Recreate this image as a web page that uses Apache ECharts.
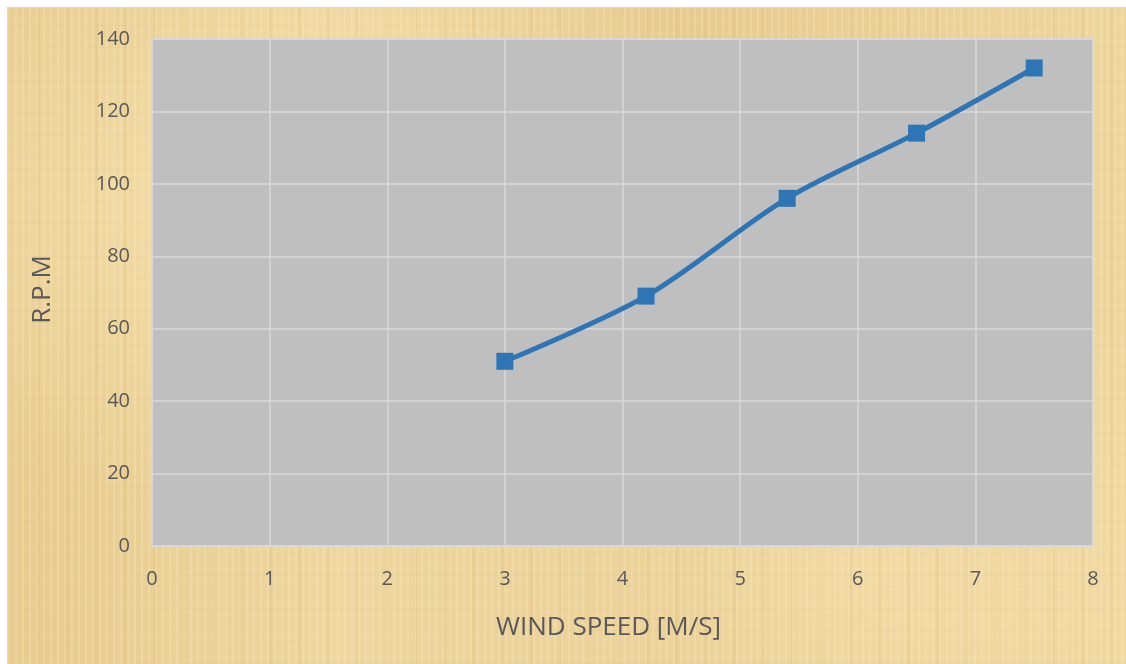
<!DOCTYPE html>
<html>
<head>
<meta charset="utf-8">
<script src="https://cdn.jsdelivr.net/npm/echarts@6/dist/echarts.min.js"></script>
<style>
  html, body { margin: 0; padding: 0; background: #ffffff; }
  #frame {
    position: absolute; left: 7px; top: 7px; width: 1119px; height: 657px;
    border-left: 1px solid #d9d9d9; border-top: 1px solid #d9d9d9;
    box-sizing: border-box;
    background-color: #ebd29a;
    background-image:
      repeating-linear-gradient(90deg, rgba(255,240,200,0.22) 0px, rgba(255,240,200,0.22) 2px, rgba(0,0,0,0) 2px, rgba(0,0,0,0) 7px),
      repeating-linear-gradient(0deg, rgba(190,150,70,0.08) 0px, rgba(190,150,70,0.08) 1px, rgba(0,0,0,0) 1px, rgba(0,0,0,0) 11px),
      repeating-linear-gradient(90deg, rgba(200,160,80,0.10) 0px, rgba(200,160,80,0.10) 3px, rgba(0,0,0,0) 3px, rgba(0,0,0,0) 29px),
      radial-gradient(ellipse at 20% 30%, rgba(250,232,185,0.45), rgba(0,0,0,0) 45%),
      radial-gradient(ellipse at 75% 85%, rgba(250,232,185,0.40), rgba(0,0,0,0) 40%),
      linear-gradient(90deg, rgba(225,192,125,0.35), rgba(245,225,175,0.30) 30%, rgba(222,190,125,0.30) 60%, rgba(245,222,170,0.30));
  }
  #chart { position: absolute; left: 0; top: 0; width: 1126px; height: 664px; }
</style>
</head>
<body>
<div id="frame"></div>
<div id="chart"></div>
<script>
// Rotor speed measured at each wind speed
const windSpeed = [3, 4.2, 5.4, 6.5, 7.5];
const rpm = [51, 69, 96, 114, 132];
const xTicks = [0, 1, 2, 3, 4, 5, 6, 7, 8];
const yTicks = [0, 20, 40, 60, 80, 100, 120, 140];

const points = windSpeed.map((w, i) => [w, rpm[i]]);
const labelFont = '"Open Sans", Lato, sans-serif';

const chart = echarts.init(document.getElementById('chart'), null, { renderer: 'canvas' });
chart.setOption({
  backgroundColor: 'transparent',
  animation: false,
  grid: {
    left: 152, right: 33, top: 39, bottom: 118,
    show: true, backgroundColor: '#bfbfbf', borderColor: '#d9d9d9', borderWidth: 1.5
  },
  xAxis: {
    type: 'value',
    min: xTicks[0], max: xTicks[xTicks.length - 1], interval: 1,
    name: 'WIND SPEED [M/S]', nameLocation: 'middle', nameGap: 69,
    nameTextStyle: { color: '#595959', fontSize: 26, fontFamily: labelFont, padding: [0, 28, 0, 0] },
    axisLine: { show: false }, axisTick: { show: false },
    axisLabel: { color: '#595959', fontSize: 20, fontFamily: labelFont, margin: 23 },
    splitLine: { show: true, lineStyle: { color: '#d9d9d9', width: 1.5 } }
  },
  yAxis: {
    type: 'value',
    min: yTicks[0], max: yTicks[yTicks.length - 1], interval: 20,
    name: 'R.P.M', nameLocation: 'middle', nameGap: 96, nameRotate: 90,
    nameTextStyle: { color: '#595959', fontSize: 26, fontFamily: labelFont, padding: [0, 0, 0, 6] },
    axisLine: { show: false }, axisTick: { show: false },
    axisLabel: { color: '#595959', fontSize: 20, fontFamily: labelFont, margin: 22 },
    splitLine: { show: true, lineStyle: { color: '#d9d9d9', width: 1.5 } }
  },
  series: [{
    type: 'line',
    data: points,
    smooth: 0.3,
    symbol: 'rect',
    symbolSize: 17,
    lineStyle: { color: '#2e75b6', width: 5 },
    itemStyle: { color: '#2e75b6' }
  }]
});
</script>
</body>
</html>
